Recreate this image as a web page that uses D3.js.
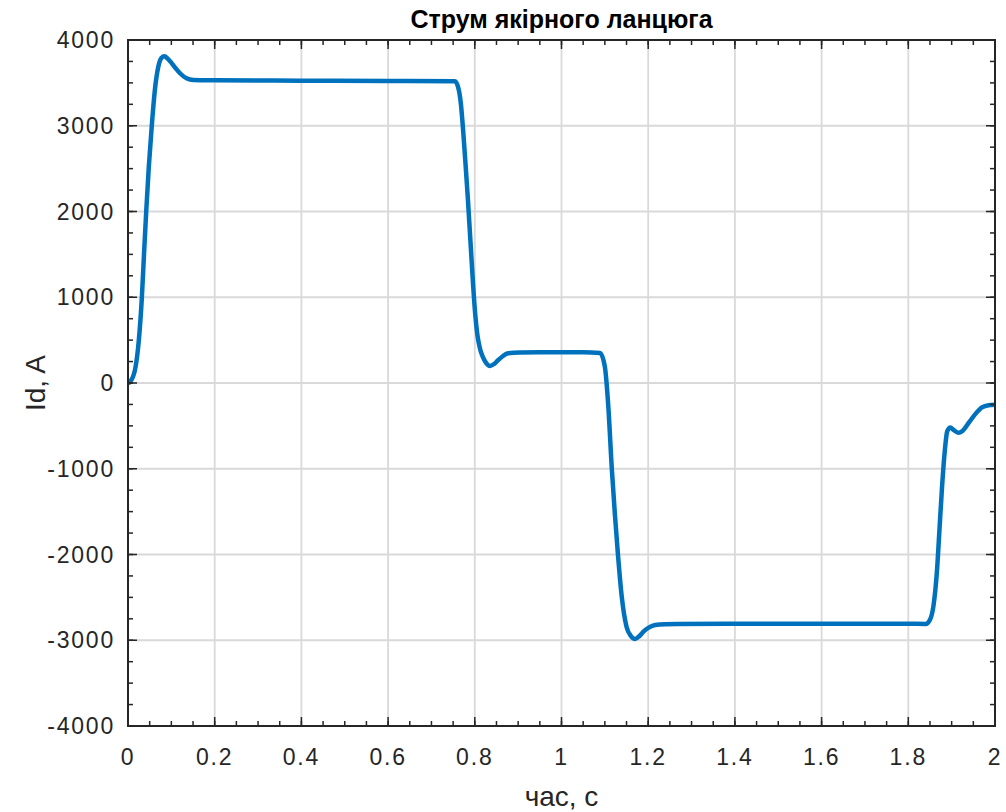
<!DOCTYPE html>
<html>
<head>
<meta charset="utf-8">
<script src="https://cdn.jsdelivr.net/npm/d3@7"></script>
<style>
  body { margin: 0; background: #fff; }
  text { font-family: "Liberation Sans", Arial, Helvetica, sans-serif; fill: #262626; }
</style>
</head>
<body>
<svg width="1006" height="812"></svg>
<script>
// armature current
var time = [0, 0.005, 0.016, 0.025, 0.032, 0.037, 0.042, 0.048, 0.055, 0.062, 0.070, 0.077, 0.084, 0.092, 0.101, 0.110, 0.120, 0.135, 0.151, 0.2, 0.4, 0.6, 0.754,
  0.762, 0.768, 0.773, 0.778, 0.784, 0.790, 0.796, 0.801, 0.806, 0.812, 0.818, 0.826, 0.835, 0.844, 0.854, 0.865, 0.877, 0.904, 0.95, 1.0, 1.05, 1.089,
  1.100, 1.108, 1.116, 1.123, 1.130, 1.139, 1.150, 1.160, 1.170, 1.180, 1.189, 1.202, 1.216, 1.240, 1.266, 1.4, 1.6, 1.8, 1.840,
  1.850, 1.858, 1.866, 1.872, 1.878, 1.884, 1.890, 1.897, 1.905, 1.915, 1.925, 1.940, 1.955, 1.970, 1.985, 2.0];
var current = [0, 15, 150, 500, 1000, 1510, 2000, 2520, 3010, 3417, 3690, 3790, 3810, 3780, 3728, 3670, 3612, 3553, 3533, 3530, 3526, 3522, 3518,
  3440, 3250, 2950, 2600, 2150, 1650, 1150, 800, 560, 400, 310, 235, 198, 220, 268, 315, 346, 355, 358, 358, 358, 350,
  190, -276, -995, -1520, -1986, -2492, -2842, -2950, -2985, -2950, -2900, -2850, -2822, -2812, -2810, -2808, -2808, -2808, -2810,
  -2760, -2600, -2200, -1700, -1200, -800, -560, -520, -550, -580, -560, -460, -360, -285, -260, -255];

var xTicks = [0, 0.2, 0.4, 0.6, 0.8, 1, 1.2, 1.4, 1.6, 1.8, 2];
var yTicks = [-4000, -3000, -2000, -1000, 0, 1000, 2000, 3000, 4000];

var svg = d3.select("svg"),
    margin = { top: 40, right: 11, bottom: 86, left: 128 },
    width = +svg.attr("width") - margin.left - margin.right,
    height = +svg.attr("height") - margin.top - margin.bottom;

var x = d3.scaleLinear().domain([0, 2]).range([0, width]);
var y = d3.scaleLinear().domain([-4000, 4000]).range([height, 0]);

var g = svg.append("g").attr("transform", "translate(" + margin.left + "," + margin.top + ")");

var axisColor = "#262626";

// grid
g.append("g").selectAll("line.gx")
    .data(xTicks.slice(1, -1)).enter().append("line")
    .attr("x1", d => x(d)).attr("x2", d => x(d))
    .attr("y1", 0).attr("y2", height)
    .style("stroke", "#d9d9d9").style("stroke-width", 1.8);
g.append("g").selectAll("line.gy")
    .data(yTicks.slice(1, -1)).enter().append("line")
    .attr("y1", d => y(d)).attr("y2", d => y(d))
    .attr("x1", 0).attr("x2", width)
    .style("stroke", "#d9d9d9").style("stroke-width", 1.8);

// curve
var line = d3.line()
    .x(function (d, i) { return x(time[i]); })
    .y(function (d) { return y(d); })
    .curve(d3.curveMonotoneX);

g.append("path")
    .datum(current)
    .attr("d", line)
    .style("fill", "none")
    .style("stroke", "#0072BD")
    .style("stroke-width", 4.5)
    .style("stroke-linejoin", "round");

// ticks on all four sides, pointing inward
var xMinor = d3.range(0, 2.0001, 0.05);
var yMinor = d3.range(-4000, 4001, 250);

function tickMarks(values, scale, horizontal, base, dir, len) {
    g.append("g").selectAll("line")
        .data(values).enter().append("line")
        .attr(horizontal ? "x1" : "y1", d => scale(d))
        .attr(horizontal ? "x2" : "y2", d => scale(d))
        .attr(horizontal ? "y1" : "x1", base)
        .attr(horizontal ? "y2" : "x2", base + dir * len)
        .style("stroke", axisColor).style("stroke-width", 1.5);
}
tickMarks(xMinor, x, true, height, -1, 5);
tickMarks(xMinor, x, true, 0, 1, 5);
tickMarks(xTicks, x, true, height, -1, 9);
tickMarks(xTicks, x, true, 0, 1, 9);
tickMarks(yMinor, y, false, 0, 1, 5);
tickMarks(yMinor, y, false, width, -1, 5);
tickMarks(yTicks, y, false, 0, 1, 9);
tickMarks(yTicks, y, false, width, -1, 9);

// box
g.append("rect")
    .attr("width", width).attr("height", height)
    .style("fill", "none").style("stroke", axisColor).style("stroke-width", 2);

// tick labels
g.append("g").selectAll("text")
    .data(xTicks).enter().append("text")
    .attr("x", d => x(d)).attr("y", height + 39)
    .attr("text-anchor", "middle")
    .style("font-size", "23px").style("letter-spacing", "1.8px")
    .text(d => d);

g.append("g").selectAll("text")
    .data(yTicks).enter().append("text")
    .attr("x", -13).attr("y", d => y(d) + 8)
    .attr("text-anchor", "end")
    .style("font-size", "23px").style("letter-spacing", "1.8px")
    .text(d => d);

// title and axis labels
svg.append("text")
    .attr("x", margin.left + width / 2).attr("y", 28)
    .attr("text-anchor", "middle")
    .style("font-size", "25px").style("font-weight", "bold")
    .style("fill", "#000")
    .text("Струм якірного ланцюга");

svg.append("text")
    .attr("x", margin.left + width / 2).attr("y", 806)
    .attr("text-anchor", "middle")
    .style("font-size", "28px")
    .text("час, с");

svg.append("text")
    .attr("transform", "translate(45," + (margin.top + height / 2) + ") rotate(-90)")
    .attr("text-anchor", "middle")
    .style("font-size", "28px")
    .text("Id, A");
</script>
</body>
</html>
